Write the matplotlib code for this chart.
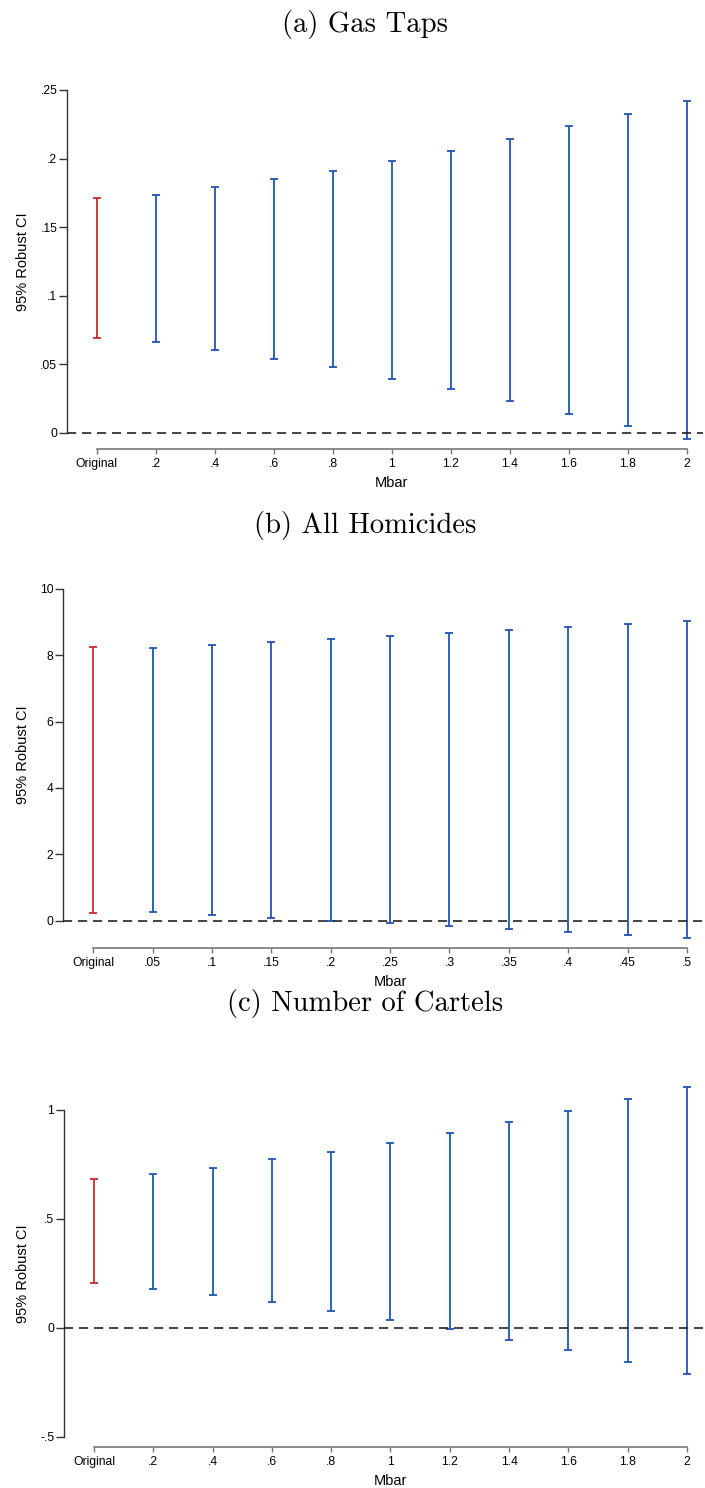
import numpy as np
import matplotlib
matplotlib.use("Agg")
import matplotlib.pyplot as plt

plt.rcParams['font.family'] = ['Liberation Sans', 'DejaVu Sans']

# sensitivity bounds, robust 95% CI for each Mbar
labels_a = ['Original', '.2', '.4', '.6', '.8', '1', '1.2', '1.4', '1.6', '1.8', '2']
lo_a = [0.0693, 0.0659, 0.0601, 0.0540, 0.0479, 0.0392, 0.0317, 0.0229, 0.0139, 0.0047, -0.0046]
hi_a = [0.1714, 0.1736, 0.1794, 0.1848, 0.1909, 0.1984, 0.2057, 0.2144, 0.2235, 0.2327, 0.2419]

labels_b = ['Original', '.05', '.1', '.15', '.2', '.25', '.3', '.35', '.4', '.45', '.5']
lo_b = [0.24, 0.27, 0.18, 0.09, 0.00, -0.08, -0.17, -0.26, -0.35, -0.44, -0.53]
hi_b = [8.24, 8.20, 8.30, 8.39, 8.48, 8.57, 8.66, 8.75, 8.84, 8.93, 9.02]

labels_c = ['Original', '.2', '.4', '.6', '.8', '1', '1.2', '1.4', '1.6', '1.8', '2']
lo_c = [0.205, 0.179, 0.151, 0.118, 0.079, 0.038, -0.003, -0.055, -0.102, -0.157, -0.212]
hi_c = [0.683, 0.708, 0.735, 0.774, 0.809, 0.849, 0.894, 0.946, 0.994, 1.049, 1.104]

titles = ['(a) Gas Taps', '(b) All Homicides', '(c) Number of Cartels']

RED = '#d0282e'
BLUE = '#1f55b8'

W, H = 705, 1488
fig = plt.figure(figsize=(W / 100, H / 100), dpi=100)


def panel(left, top, bottom, title_y, labels, lo, hi, ylim, yticks, yticklabels):
    ax = fig.add_axes([left / W, 1 - bottom / H, (703 - left) / W, (bottom - top) / H])
    x = np.arange(len(labels))
    lo = np.array(lo)
    hi = np.array(hi)
    mid = (lo + hi) / 2
    cols = [RED] + [BLUE] * (len(x) - 1)
    for xi, m, l, h, c in zip(x, mid, lo, hi, cols):
        ax.errorbar([xi], [m], yerr=[[m - l], [h - m]], fmt='none', ecolor=c,
                    elinewidth=1.3, capsize=3.2, capthick=1.3, zorder=3)
    ax.axhline(0, color='#222222', lw=1.2, ls=(0, (5.5, 3.5)), zorder=4)

    ax.set_xlim(-0.505, 10.27)
    ax.set_ylim(*ylim)
    ax.set_xticks(x)
    ax.set_xticklabels(labels)
    ax.set_yticks(yticks)
    ax.set_yticklabels(yticklabels)

    for s in ['top', 'right']:
        ax.spines[s].set_visible(False)
    ax.spines['left'].set_bounds(yticks[0], yticks[-1])
    ax.spines['bottom'].set_bounds(0, len(x) - 1)
    ax.spines['left'].set_color('#333333')
    ax.spines['bottom'].set_color('#777777')
    ax.spines['left'].set_linewidth(1.0)
    ax.spines['bottom'].set_linewidth(1.2)
    ax.tick_params(axis='y', length=5.5, width=1.0, color='#333333', pad=1.5, labelsize=8.7)
    ax.tick_params(axis='x', length=3.8, width=1.0, color='#777777', pad=3, labelsize=8.7)

    ax.set_ylabel('95% Robust CI', fontsize=10.5)
    ax.set_xlabel('Mbar', fontsize=10.5)
    hpx = bottom - top
    wpx = 703 - left
    ymid = (yticks[0] + yticks[-1]) / 2
    ax.yaxis.set_label_coords((23 - left) / wpx, (ymid - ylim[0]) / (ylim[1] - ylim[0]))
    ax.xaxis.set_label_coords((5 + 0.505) / 10.775, -34 / hpx)
    ax.xaxis.label.set_va('center')
    ax.yaxis.label.set_va('center')

    fig.text(365 / W, 1 - title_y / H, title, ha='center', va='center',
             fontsize=20.6, family='cmr10')
    return ax


for title, (left, top, bottom, ty), labels, lo, hi, ylim, yt, ytl in [
    (titles[0], (67, 90, 448.7, 24.5), labels_a, lo_a, hi_a, (-0.0117, 0.25),
     [0, 0.05, 0.1, 0.15, 0.2, 0.25], ['0', '.05', '.1', '.15', '.2', '.25']),
    (titles[1], (63.3, 588.7, 947.7, 525), labels_b, lo_b, hi_b, (-0.81, 10),
     [0, 2, 4, 6, 8, 10], ['0', '2', '4', '6', '8', '10']),
    (titles[2], (64, 1083.8, 1447, 1003), labels_c, lo_c, hi_c, (-0.546, 1.12),
     [-0.5, 0, 0.5, 1], ['-.5', '0', '.5', '1']),
]:
    panel(left, top, bottom, ty, labels, lo, hi, ylim, yt, ytl)

fig.savefig('out.png', dpi=100, facecolor='white')
